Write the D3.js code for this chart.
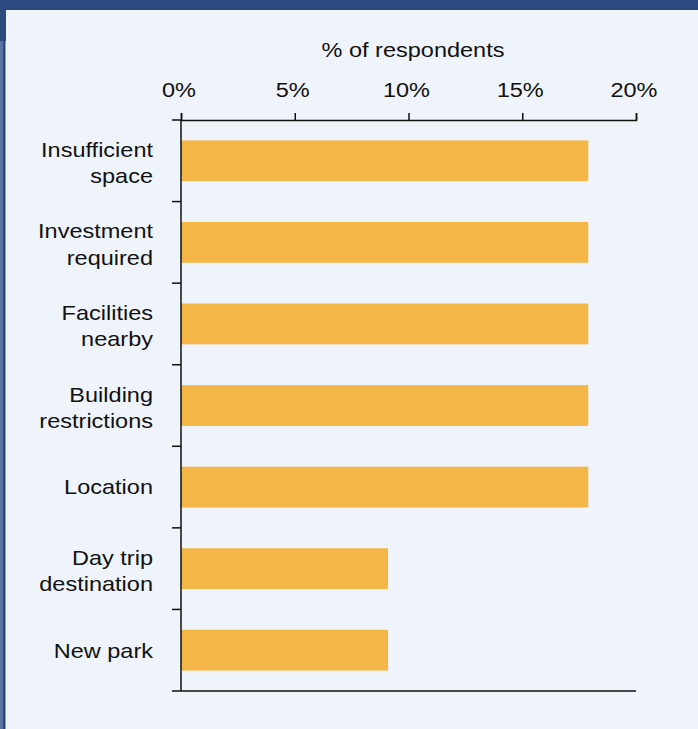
<!DOCTYPE html>
<html>
<head>
<meta charset="utf-8">
<script src="https://cdn.jsdelivr.net/npm/d3@7"></script>
<style>
  html, body { margin: 0; padding: 0; background: #eff3fa; }
  svg { display: block; }
  text { font-family: "Liberation Sans", Arial, Helvetica, sans-serif; fill: #111; }
</style>
</head>
<body>
<svg id="chart" width="698" height="729"></svg>
<script>
// Reasons given, top to bottom (each entry is the label's lines)
const categories = [
  ["Insufficient", "space"],
  ["Investment", "required"],
  ["Facilities", "nearby"],
  ["Building", "restrictions"],
  ["Location"],
  ["Day trip", "destination"],
  ["New park"]
];
const values = [17.9, 17.9, 17.9, 17.9, 17.9, 9.1, 9.1];
const tickValues = [0, 5, 10, 15, 20];
const axisTitle = "% of respondents";

const W = 698, H = 729;
const margin = { top: 120, left: 181, right: 62, bottom: 38 };
const stretch = 1.12;      // text is set slightly wide
const fontSize = 21;

const svg = d3.select("#chart");

// panel frame: dark header strip and left edge
svg.append("rect").attr("x", 0).attr("y", 0).attr("width", W).attr("height", 10).attr("fill", "#2d4a7e");
svg.append("rect").attr("x", 0).attr("y", 0).attr("width", 6).attr("height", 41).attr("fill", "#2d4a7e");
svg.append("rect").attr("x", 0).attr("y", 41).attr("width", 3).attr("height", H - 41).attr("fill", "#5d72a0");
svg.append("rect").attr("x", 3).attr("y", 41).attr("width", 2.5).attr("height", H - 41).attr("fill", "#2d4a7e");

const x = d3.scaleLinear().domain([0, 20]).range([margin.left, W - margin.right]);
const y = d3.scaleBand()
  .domain(d3.range(categories.length))
  .range([margin.top, H - margin.bottom])
  .paddingInner(0.5)
  .paddingOuter(0.25);

const bandStep = y.step();
const yTop = margin.top, yBottom = H - margin.bottom;

function wideText(sel, tx, ty, anchor) {
  return sel.append("text")
    .attr("transform", `translate(${tx},${ty}) scale(${stretch},1)`)
    .attr("text-anchor", anchor)
    .style("font-size", fontSize + "px");
}

// bars
svg.append("g").selectAll("rect")
  .data(values)
  .join("rect")
  .attr("x", x(0))
  .attr("y", (d, i) => y(i))
  .attr("width", d => x(d) - x(0))
  .attr("height", y.bandwidth())
  .attr("fill", "#f4b646");

// top axis with tick labels
const xAxis = d3.axisTop(x)
  .tickValues(tickValues)
  .tickFormat(d => d + "%")
  .tickSize(7)
  .tickPadding(0);
const gx = svg.append("g").attr("transform", `translate(0,${yTop})`).call(xAxis);
gx.select(".domain").attr("stroke", "#111").attr("stroke-width", 1.5);
gx.selectAll(".tick line").attr("stroke", "#111").attr("stroke-width", 1.5);
gx.selectAll(".tick text").remove();
tickValues.forEach(v => {
  wideText(svg, x(v) - 2, 97, "middle").text(v + "%");
});

// axis title
wideText(svg, 413, 57, "middle").text(axisTitle);

// vertical axis line and category boundary ticks
svg.append("line")
  .attr("x1", x(0)).attr("x2", x(0))
  .attr("y1", yTop).attr("y2", yBottom)
  .attr("stroke", "#111").attr("stroke-width", 1.5);
const boundaries = d3.range(categories.length + 1).map(i => yTop + i * bandStep);
svg.append("g").selectAll("line")
  .data(boundaries)
  .join("line")
  .attr("x1", x(0) - 9).attr("x2", x(0))
  .attr("y1", d => d).attr("y2", d => d)
  .attr("stroke", "#111").attr("stroke-width", 1.5);

// bottom baseline
svg.append("line")
  .attr("x1", x(0)).attr("x2", x(20))
  .attr("y1", yBottom).attr("y2", yBottom)
  .attr("stroke", "#111").attr("stroke-width", 1.5);

// category labels, right-aligned against the axis
const lineGap = 26.5;
categories.forEach((lines, i) => {
  const cy = y(i) + y.bandwidth() / 2;
  const first = lines.length === 1 ? cy + 7.3 : cy + 9.3 - lineGap / 2;
  lines.forEach((ln, j) => {
    wideText(svg, 153, first + j * lineGap, "end").text(ln);
  });
});
</script>
</body>
</html>
